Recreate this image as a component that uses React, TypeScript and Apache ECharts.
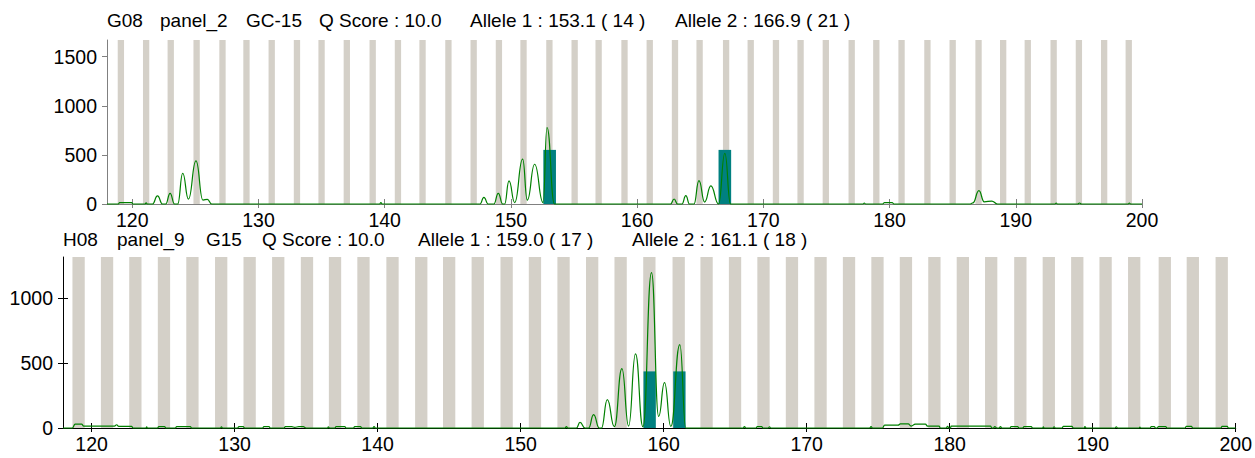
import React, { useEffect, useRef } from "react";
import * as echarts from "echarts";

// ---------- data ----------
const xTickValues = [120, 130, 140, 150, 160, 170, 180, 190, 200];
const yTicksTop = [0, 500, 1000, 1500];
const yTicksBottom = [0, 500, 1000];

const topTitleFields = ["G08", "panel_2", "GC-15", "Q Score : 10.0", "Allele 1 : 153.1 ( 14 )", "Allele 2 : 166.9 ( 21 )"];
const bottomTitleFields = ["H08", "panel_9", "G15", "Q Score : 10.0", "Allele 1 : 159.0 ( 17 )", "Allele 2 : 161.1 ( 18 )"];

const binsTop = [119.1, 121.1, 123.05, 125.1, 127.15, 129.05, 131.05, 133.05, 135.0, 137.0, 139.05, 141.05, 143.0, 145.05, 147.05, 149.05, 151.0, 153.05, 155.05, 156.95, 159.0, 161.0, 163.0, 164.95, 167.05, 169.0, 171.0, 172.95, 174.95, 177.0, 178.95, 180.95, 183.0, 185.0, 187.05, 189.0, 190.95, 193.0, 195.0, 197.0, 198.95];
const binsBottom = [119.09, 121.08, 123.06, 125.06, 127.05, 129.06, 131.05, 133.05, 135.06, 137.02, 139.01, 141.04, 143.05, 145.0, 147.0, 149.02, 151.0, 153.0, 155.0, 156.99, 159.0, 161.05, 163.0, 164.99, 166.98, 168.97, 170.97, 172.96, 174.95, 176.94, 178.93, 180.92, 182.9, 184.94, 186.93, 188.92, 190.9, 192.9, 195.04, 197.0, 199.02];

// called alleles: [size, height]
const allelesTop = [[153.07, 551], [166.95, 551]];
const allelesBottom = [[159.02, 437], [161.1, 437]];

// electropherogram traces (size bp, RFU) — extrema
const traceTop = [
  [118, 0], [118.9, 0], [119.0, 15], [119.95, 15], [120.05, 0], [121.0, 0], [121.1, 12], [121.2, 0],
  [121.6, 0], [122.0, 82], [122.4, 0], [122.65, 0], [123.0, 109], [123.35, 0], [123.6, 0], [124.0, 313],
  [124.45, 50], [125.05, 439], [125.6, 40], [125.95, 48], [126.3, 0], [139.6, 0], [139.7, 15], [139.8, 0],
  [147.55, 0], [147.86, 68], [148.2, 0], [148.65, 0], [149.0, 109], [149.35, 0], [149.5, 0], [149.85, 235],
  [150.3, 15], [150.93, 456], [151.3, 40], [151.88, 405], [152.55, 15], [152.86, 779], [153.45, 0],
  [162.65, 0], [162.93, 51], [163.2, 0], [163.55, 0], [163.86, 85], [164.15, 0], [164.5, 0], [164.9, 238],
  [165.35, 20], [165.84, 184], [166.45, 0], [166.95, 517], [167.4, 0], [177.9, 0], [178.0, 10], [178.1, 0],
  [179.45, 0], [179.6, 15], [180.2, 15], [180.35, 0], [186.4, 0], [186.6, 12], [187.08, 136], [187.5, 22],
  [188.1, 30], [188.55, 0], [193.1, 0], [193.2, 10], [193.3, 0], [194.9, 0], [195.05, 10], [195.2, 0],
  [198.9, 0], [199.0, 10], [199.1, 0], [200, 0],
];

const traceBottom = [
  [118, 0], [118.65, 0], [118.85, 30], [119.3, 30], [119.45, 15], [121.6, 15], [121.75, 25], [121.9, 12],
  [122.8, 12], [122.9, 0], [123.8, 0], [123.85, 8], [123.9, 0], [124.6, 0], [124.7, 10], [125.1, 10],
  [125.2, 0], [125.85, 0], [125.95, 10], [126.9, 10], [127.0, 0], [129.0, 0], [129.08, 8], [129.16, 0],
  [130.2, 0], [130.3, 10], [130.6, 10], [130.7, 0], [131.95, 0], [132.05, 10], [132.4, 10], [132.5, 0],
  [133.45, 0], [133.55, 10], [134.0, 10], [134.2, 5], [134.5, 10], [134.8, 10], [135.0, 0], [136.5, 0],
  [136.55, 8], [136.65, 0], [137.0, 0], [137.1, 10], [137.7, 10], [137.8, 0], [138.3, 0], [138.4, 10],
  [138.8, 10], [138.9, 0], [139.65, 0], [139.75, 10], [139.85, 0],
  [153.1, 0], [153.2, 10], [153.3, 0], [153.9, 0], [154.15, 43], [154.5, 0], [154.75, 0], [155.1, 103],
  [155.5, 0], [155.65, 0], [156.06, 219], [156.55, 10], [157.08, 458], [157.55, 15], [158.03, 572],
  [158.55, 10], [159.15, 1200], [159.65, 90], [160.06, 350], [160.5, 12], [161.13, 644], [161.55, 0],
  [165.55, 0], [165.65, 10], [165.75, 0], [166.45, 0], [166.55, 10], [166.85, 10], [166.95, 0], [167.3, 0],
  [167.4, 8], [167.5, 0],
  [174.4, 0], [174.5, 10], [174.6, 0], [175.3, 0], [175.45, 22], [176.4, 22], [176.55, 32], [177.1, 32],
  [177.3, 15], [177.6, 30], [178.3, 30], [178.45, 15], [179.25, 15], [179.35, 0], [179.75, 0], [179.85, 12],
  [179.95, 0], [180.05, 0], [180.1, 15], [182.85, 15], [182.95, 0], [183.05, 0], [183.15, 10], [183.3, 0],
  [183.45, 0], [183.55, 10], [183.65, 0], [184.2, 0], [184.3, 10], [184.75, 10], [184.85, 0], [185.1, 0],
  [185.2, 10], [185.7, 10], [185.8, 0], [186.5, 0], [186.55, 8], [186.6, 0], [187.2, 0], [187.3, 8],
  [187.4, 0], [187.85, 0], [187.95, 12], [188.55, 12], [188.65, 0], [189.4, 0], [189.45, 10], [189.55, 0],
  [191.55, 0], [191.65, 8], [191.75, 0], [193.25, 0], [193.3, 6], [193.35, 0], [194.0, 0], [194.1, 10],
  [194.3, 10], [194.4, 0], [194.5, 0], [194.6, 10], [195.1, 10], [195.2, 0], [196.45, 0], [196.55, 12],
  [196.9, 12], [197.0, 0], [198.95, 0], [199.05, 12], [199.4, 12], [199.5, 0], [200, 0],
];

// ---------- layout / style ----------
const FONT = "'Liberation Sans', Arial, sans-serif";
const FS = 19.5;
const TITLE_FS = 19;
const X_MIN = 118;
const X_MAX = 200;
const Y_MAX_TOP = 1670;
const Y_MAX_BOTTOM = 1320;
const BIN_COLOR = "#d4d0c8";
const ALLELE_COLOR = "#008080";
const TRACE_COLOR = "#008000";

const topTitleX = [107, 160, 246, 319, 470, 675];
const bottomTitleX = [63, 117, 206, 262, 418, 632];

function rectSeries(name: string, data: number[][], width: number, color: string, idx: number, yMax: number | null, z: number) {
  return {
    name,
    type: "custom",
    xAxisIndex: idx * 2,
    yAxisIndex: idx * 2,
    z,
    silent: true,
    clip: true,
    encode: { x: 0, y: 1 },
    data,
    renderItem: (params: any, api: any) => {
      const c = api.value(0);
      const h = yMax === null ? api.value(1) : yMax;
      const p1 = api.coord([c - width / 2, h]);
      const p2 = api.coord([c + width / 2, 0]);
      return {
        type: "rect",
        shape: { x: p1[0], y: p1[1], width: p2[0] - p1[0], height: p2[1] - p1[1] },
        style: { fill: color },
      };
    },
  };
}

function makeAxes(idx: number, yMax: number, yTicks: number[], axisColor: string, xLabelMargin: number, yCross: boolean) {
  const xMain = {
    type: "value",
    gridIndex: idx,
    min: X_MIN,
    max: X_MAX,
    splitLine: { show: false },
    axisLine: { show: true, onZero: false, lineStyle: { color: axisColor, width: 1 } },
    axisTick: { show: true, customValues: xTickValues, length: 4, lineStyle: { color: axisColor } },
    axisLabel: {
      customValues: xTickValues,
      color: "#000",
      fontSize: FS,
      fontFamily: FONT,
      margin: xLabelMargin,
      formatter: (v: number) => String(v),
    },
  };
  const xInner = {
    type: "value",
    gridIndex: idx,
    min: X_MIN,
    max: X_MAX,
    position: "bottom",
    splitLine: { show: false },
    axisLine: { show: false, onZero: false },
    axisTick: { show: true, inside: true, customValues: xTickValues, length: 5, lineStyle: { color: axisColor } },
    axisLabel: { show: false },
  };
  const yMain = {
    type: "value",
    gridIndex: idx,
    min: 0,
    max: yMax,
    splitLine: { show: false },
    axisLine: { show: true, onZero: false, lineStyle: { color: axisColor, width: 1 } },
    axisTick: { show: true, customValues: yTicks, length: 5, lineStyle: { color: axisColor } },
    axisLabel: {
      customValues: yTicks,
      color: "#000",
      fontSize: FS,
      fontFamily: FONT,
      margin: 10,
      formatter: (v: number) => String(v),
    },
  };
  const yInner = {
    type: "value",
    gridIndex: idx,
    min: 0,
    max: yMax,
    position: "left",
    splitLine: { show: false },
    axisLine: { show: false, onZero: false },
    axisTick: { show: yCross, inside: true, customValues: yTicks, length: 5, lineStyle: { color: axisColor } },
    axisLabel: { show: false },
  };
  return { x: [xMain, xInner], y: [yMain, yInner] };
}

export default function App() {
  const ref = useRef<HTMLDivElement>(null);

  useEffect(() => {
    if (!ref.current) return;
    const chart = echarts.init(ref.current, null, { renderer: "svg" });

    const a0 = makeAxes(0, Y_MAX_TOP, yTicksTop, "#808080", 6, false);
    const a1 = makeAxes(1, Y_MAX_BOTTOM, yTicksBottom, "#000000", 6, true);

    const titleText = (fields: string[], xs: number[], y: number) =>
      fields.map((t, i) => ({
        type: "text",
        x: xs[i],
        y,
        z: 100,
        style: {
          text: t,
          fontSize: TITLE_FS,
          fontFamily: FONT,
          fill: "#000",
          verticalAlign: "middle",
          align: "left",
        },
      }));

    const option: any = {
      animation: false,
      backgroundColor: "#ffffff",
      grid: [
        { left: 107, top: 40, width: 1035, height: 164, containLabel: false },
        { left: 63, top: 257, width: 1173, height: 171, containLabel: false },
      ],
      xAxis: [...a0.x, ...a1.x],
      yAxis: [...a0.y, ...a1.y],
      graphic: [...titleText(topTitleFields, topTitleX, 20), ...titleText(bottomTitleFields, bottomTitleX, 239.5)],
      series: [
        rectSeries("binsTop", binsTop.map((c) => [c, Y_MAX_TOP]), 0.5, BIN_COLOR, 0, Y_MAX_TOP, 1),
        rectSeries("allelesTop", allelesTop, 1.0, ALLELE_COLOR, 0, null, 2),
        {
          name: "traceTop",
          type: "line",
          xAxisIndex: 0,
          yAxisIndex: 0,
          data: traceTop,
          showSymbol: false,
          symbol: "none",
          smooth: 0.5,
          smoothMonotone: "x",
          clip: false,
          z: 5,
          lineStyle: { color: TRACE_COLOR, width: 1.2 },
          silent: true,
        },
        rectSeries("binsBottom", binsBottom.map((c) => [c, Y_MAX_BOTTOM]), 0.86, BIN_COLOR, 1, Y_MAX_BOTTOM, 1),
        rectSeries("allelesBottom", allelesBottom, 0.86, ALLELE_COLOR, 1, null, 2),
        {
          name: "traceBottom",
          type: "line",
          xAxisIndex: 2,
          yAxisIndex: 2,
          data: traceBottom,
          showSymbol: false,
          symbol: "none",
          smooth: 0.5,
          smoothMonotone: "x",
          clip: false,
          z: 5,
          lineStyle: { color: TRACE_COLOR, width: 1.2 },
          silent: true,
        },
      ],
    };

    chart.setOption(option);
    return () => chart.dispose();
  }, []);

  return (
    <div
      ref={ref}
      style={{ position: "fixed", left: 0, top: 0, width: 1255, height: 458, background: "#fff" }}
    />
  );
}
